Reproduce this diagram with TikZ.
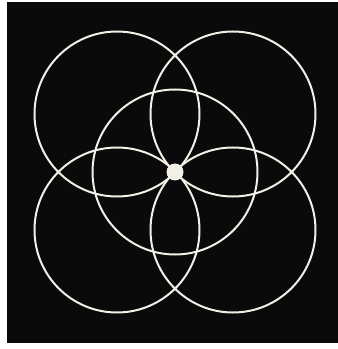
\documentclass[tikz,border=0pt]{standalone}
\usetikzlibrary{calc}
\definecolor{bg}{HTML}{0A0A0A}
\definecolor{ln}{HTML}{F2EFE6}
\tikzset{ring/.style={draw=ln, line width=2pt}}
\begin{document}
\begin{tikzpicture}[x=1pt,y=1pt]
\useasboundingbox (0,0) rectangle (338,349);
\fill[white] (0,0) rectangle (338,349);
\fill[bg] (7,6) rectangle (338,347);
\coordinate (c) at (175,177);
\draw[ring] (c) circle[radius=82.5];
\foreach \dx/\dy in {-58/58, 58/58, -58/-58, 58/-58}
  \draw[ring] ($(c)+(\dx,\dy)$) circle[radius=82.5];
\fill[ln] (c) circle[radius=8.5];
\end{tikzpicture}
\end{document}
